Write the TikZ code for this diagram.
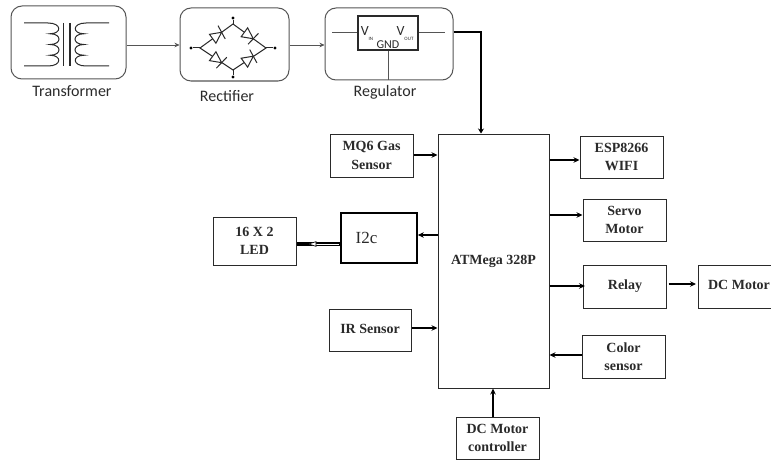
\documentclass[tikz,border=0pt]{standalone}
\usepackage{fontspec}
\setmainfont{Liberation Serif}
\newfontfamily\calfont{Carlito}
\usetikzlibrary{arrows.meta,calc}
\definecolor{ink}{HTML}{2A2A2A}
\definecolor{soft}{HTML}{555555}
\tikzset{
  x=1pt,y=-1pt,
  blockbox/.style={draw=ink,line width=1pt,align=center,inner sep=0pt,font=\fontsize{14}{18.5}\selectfont\bfseries,text=ink},
  roundbox/.style={draw=soft,line width=1pt,rounded corners=11pt,inner sep=0pt},
  caption/.style={font=\calfont\fontsize{16}{18}\selectfont,text=ink,inner sep=0pt},
  link/.style={draw=black,line width=1.2pt,-{Stealth[length=6pt,width=5.5pt]}},
  thinlink/.style={draw=soft,line width=.6pt,-{Stealth[length=5pt,width=4.5pt,fill=black]}},
  art/.style={draw=ink,line width=1pt},
  dot/.style={circle,fill=black,inner sep=0pt,minimum size=3.4pt},
  pics/bridgediode/.style={code={
    \draw[art,fill=white,line width=1pt] (-5.5pt,-5.5pt) -- (5.5pt,0pt) -- (-5.5pt,5.5pt) -- cycle;
    \draw[art,line width=1pt] (4.5pt,-7.5pt) -- (6.5pt,7.5pt);
  }}
}
\newcommand{\blockat}[6]{\node[blockbox,minimum width=#3pt-#2pt,minimum height=#5pt-#4pt] (#1) at ({(#2+#3)/2},{(#4+#5)/2}) {#6};}
\begin{document}
\begin{tikzpicture}
\useasboundingbox (0,0) rectangle (771,460);
\clip (0,0) rectangle (771,460);
% top row
\node[roundbox,minimum width=115pt,minimum height=73pt] (trans) at (68.5,42.5) {};
\node[roundbox,minimum width=109pt,minimum height=73pt] (rect) at (234.5,44.5) {};
\node[roundbox,minimum width=128pt,minimum height=72pt] (reg) at (389,44) {};
\node[caption] (transl) at (72,91) {Transformer};
\node[caption] (rectl) at (227,96) {Rectifier};
\node[caption] (regl) at (385,92) {Regulator};
% transformer symbol
\draw[art] (24,23) -- (48,23)
  .. controls (62,23) and (62,33.75) .. (50,33.75)
  .. controls (62,33.75) and (62,44.5) .. (50,44.5)
  .. controls (62,44.5) and (62,55.25) .. (50,55.25)
  .. controls (62,55.25) and (62,66) .. (48,66) -- (24,66);
\draw[art] (109,23) -- (86,23)
  .. controls (72,23) and (72,33.75) .. (84,33.75)
  .. controls (72,33.75) and (72,44.5) .. (84,44.5)
  .. controls (72,44.5) and (72,55.25) .. (84,55.25)
  .. controls (72,55.25) and (72,66) .. (86,66) -- (109,66);
\draw[art,line width=1.6pt] (63.5,23) -- (63.5,66);
\draw[art,line width=1.6pt] (70,23) -- (70,66);
% rectifier symbol
\coordinate (jl) at (200,48);
\coordinate (jr) at (266,48);
\coordinate (jt) at (233,24);
\coordinate (jb) at (233,70);
\draw[art] (jl) -- (jt) -- (jr) -- (jb) -- cycle;
\pic[rotate=36] at ($(jl)!.52!(jt)$) {bridgediode};
\pic[rotate=-36] at ($(jt)!.48!(jr)$) {bridgediode};
\pic[rotate=-36] at ($(jl)!.52!(jb)$) {bridgediode};
\pic[rotate=36] at ($(jb)!.48!(jr)$) {bridgediode};
\node[dot] (tl) at (191,48) {};
\node[dot] (tr) at (275,48) {};
\node[dot] (tt) at (233,18) {};
\node[dot] (tb) at (233,77) {};
\draw[art] (tl) -- (jl) (tr) -- (jr) (tt) -- (jt) (tb) -- (jb);
% regulator symbol
\node[draw=ink,line width=1.2pt,minimum width=60pt,minimum height=34pt,inner sep=0pt] (ic) at (388,33) {};
\coordinate (rl) at (332,33);
\coordinate (rr) at (445,33);
\draw[art,draw=soft] (rl) -- (rl -| ic.west);
\draw[art,draw=soft] (ic.east) -- (rr);
\draw[art,draw=soft] (ic.south) -- (ic.south |- reg.south);
\node[inner sep=0pt,font=\calfont\fontsize{14}{16}\selectfont,text=ink] (vin) at (367,34) {V\raisebox{-5pt}{\fontsize{5}{6}\selectfont IN}};
\node[inner sep=0pt,font=\calfont\fontsize{14}{16}\selectfont,text=ink] (vout) at (405,34) {V\raisebox{-5pt}{\fontsize{5}{6}\selectfont OUT}};
\node[inner sep=0pt,font=\calfont\fontsize{12}{14}\selectfont,text=ink] (gnd) at (388,44.5) {GND};
% blocks
\blockat{atm}{438}{549}{134}{388}{ATMega 328P}
\blockat{mq}{330}{413}{134}{177}{MQ6 Gas\\Sensor}
\blockat{led}{213}{296}{217}{265}{16 X 2\\LED}
\node[draw=black,line width=1.7pt,minimum width=76pt,minimum height=50pt,inner sep=0pt,font=\fontsize{17}{20}\selectfont,text=ink] (i2c) at (379,238) {\hspace*{-25pt}I2c};
\blockat{ir}{329}{411}{309}{351}{\raisebox{3pt}{IR Sensor}}
\blockat{esp}{580}{663}{136}{178}{ESP8266\\WIFI}
\blockat{servo}{583}{666}{199}{241}{Servo\\Motor}
\blockat{relay}{583.5}{666.5}{265}{308}{\raisebox{3pt}{Relay}}
\blockat{dcm}{698}{780}{265}{308}{\raisebox{3pt}{DC Motor}}
\blockat{color}{582}{665}{335}{378}{Color\\sensor}
\blockat{ctrl}{456}{539}{417}{459}{DC Motor\\controller}
% connectors
\draw[thinlink] (trans.east |- 0,45) -- (rect.west |- 0,45);
\draw[thinlink] (rect.east |- 0,45) -- (reg.west |- 0,45);
\draw[line width=1.7pt,draw=black,-{Stealth[length=5pt,width=6pt]}] (reg.east |- 0,32) -| (atm.north -| 481,0);
\draw[link] (mq.east |- 0,155) -- (atm.west |- 0,155);
\draw[link] (atm.west |- 0,235) -- (i2c.east |- 0,235);
\draw[line width=3.6pt,draw=black] (i2c.west |- 0,244) -- (led.east |- 0,244);
\draw[line width=1pt,draw=white] (i2c.west |- 0,244) ++(-1,0) -- (316,244);
\draw[draw=black,fill=white,line width=.6pt] (316,241.6) -- (309,244) -- (316,246.4) -- cycle;
\draw[link] (ir.east |- 0,328) -- (atm.west |- 0,328);
\draw[link] (atm.east |- 0,160) -- (esp.west |- 0,160);
\draw[link] (atm.east |- 0,215) -- (servo.west |- 0,215);
\draw[link] (atm.east |- 0,286) -- (585,286);
\draw[link] (relay.east |- 0,284) ++(1.5,0) -- (696,284);
\draw[link] (color.west |- 0,355) -- (atm.east |- 0,355);
\draw[link,line width=1.5pt] (ctrl.north -| 493,0) -- (atm.south -| 493,0);
\end{tikzpicture}
\end{document}
